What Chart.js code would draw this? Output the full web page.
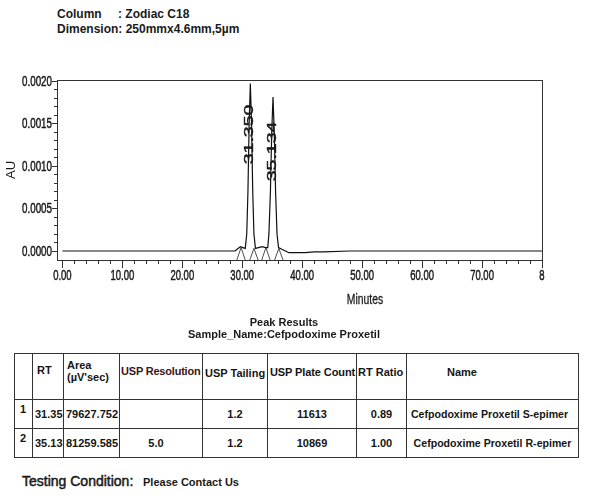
<!DOCTYPE html>
<html>
<head>
<meta charset="utf-8">
<script src="https://cdn.jsdelivr.net/npm/chart.js@4.4.1/dist/chart.umd.min.js"></script>
<style>
  body { margin:0; width:600px; height:501px; position:relative; background:#fff; overflow:hidden; font-family:'Liberation Sans', Arial, sans-serif; color:#1a1a1a; }
  .abs { position:absolute; }
  #tbl { position:absolute; left:14px; top:353px; border-collapse:collapse; table-layout:fixed; width:564px; font:bold 11px/12px 'Liberation Sans', Arial, sans-serif; color:#151515; }
  #tbl td { border:1px solid #333; padding:0; overflow:visible; white-space:nowrap; }
  #tbl tr.h td { height:45px; vertical-align:top; }
  #tbl tr.r td { height:28px; vertical-align:middle; text-align:center; }
</style>
</head>
<body>
<div class="abs" style="left:57px;top:7px;font:bold 12px/15px 'Liberation Sans',Arial,sans-serif;color:#1a1a1a">
  <div><span style="display:inline-block;width:61px">Column</span>: Zodiac C18</div>
  <div>Dimension: 250mmx4.6mm,5µm</div>
</div>
<div class="abs" style="left:0;top:0;width:600px;height:310px"><canvas id="c" width="600" height="310"></canvas></div>
<div class="abs" style="left:315px;top:291px;width:100px;text-align:center;font:14px/16px 'Liberation Sans',Arial,sans-serif;color:#1a1a1a;-webkit-text-stroke:0.3px #1a1a1a;transform:scaleX(0.74);transform-origin:50% 50%">Minutes</div>
<div class="abs" style="left:134px;top:316px;width:300px;text-align:center;font:bold 11px/12px 'Liberation Sans',Arial,sans-serif;color:#1a1a1a">
  <div>Peak Results</div>
  <div>Sample_Name:Cefpodoxime Proxetil</div>
</div>
<table id="tbl">
  <colgroup>
    <col style="width:18px"><col style="width:31px"><col style="width:56px"><col style="width:83px"><col style="width:65px"><col style="width:89px"><col style="width:50px"><col style="width:172px">
  </colgroup>
  <tr class="h">
    <td></td>
    <td><div style="padding:10px 0 0 4px">RT</div></td>
    <td><div style="padding:5px 0 0 3px">Area<br>(µV'sec)</div></td>
    <td><div style="padding:11px 0 0 1px;color:#3d1414;letter-spacing:-0.2px">USP Resolution</div></td>
    <td><div style="padding:13px 0 0 2px">USP Tailing</div></td>
    <td><div style="padding:12px 0 0 2px;letter-spacing:-0.1px">USP Plate Count</div></td>
    <td><div style="padding:12px 0 0 1px">RT Ratio</div></td>
    <td><div style="padding:12px 0 0 40px">Name</div></td>
  </tr>
  <tr class="r">
    <td style="vertical-align:top;text-align:left"><div style="padding:3px 0 0 5px">1</div></td>
    <td style="text-align:left;padding-left:2px">31.35</td>
    <td style="text-align:left;padding-left:2px">79627.752</td>
    <td></td>
    <td>1.2</td>
    <td>11613</td>
    <td>0.89</td>
    <td style="font-size:10.6px;padding-right:6px">Cefpodoxime Proxetil S-epimer</td>
  </tr>
  <tr class="r">
    <td style="vertical-align:top;text-align:left"><div style="padding:3px 0 0 5px">2</div></td>
    <td style="text-align:left;padding-left:2px">35.13</td>
    <td style="text-align:left;padding-left:2px">81259.585</td>
    <td style="padding-right:10px">5.0</td>
    <td>1.2</td>
    <td>10869</td>
    <td>1.00</td>
    <td style="font-size:10.6px">Cefpodoxime Proxetil R-epimer</td>
  </tr>
</table>
<div class="abs" style="left:22px;top:473px;font:14px/16px 'Liberation Sans',Arial,sans-serif;color:#1a1a1a;-webkit-text-stroke:0.5px #1a1a1a">Testing Condition:</div>
<div class="abs" style="left:143px;top:476px;font:bold 11px/13px 'Liberation Sans',Arial,sans-serif;color:#1a1a1a">Please Contact Us</div>

<script>
// ---- data ----
const timeMin = [0, 28.8, 29.3, 29.7, 30.1, 30.5, 30.75, 30.95, 31.15, 31.35, 31.55, 31.75, 31.95, 32.2, 32.7, 33.3, 33.9, 34.25, 34.45, 34.7, 34.92, 35.13, 35.34, 35.56, 35.8, 36.05, 36.6, 37.2, 37.8, 39.0, 40.5, 42.0, 43.5, 48.0, 80.0];
const auValues = [0, 0, 0.00003, 0.00005, 0.00004, 0.00003, 0.0002, 0.0007, 0.0015, 0.00197, 0.0015, 0.0007, 0.0002, 0.00003, 0.00004, 0.00005, 0.00004, 0.00004, 0.0002, 0.0007, 0.0014, 0.00181, 0.0014, 0.0007, 0.0002, 0.00004, 0.00002, 0.0, -0.00002, -0.00002, -0.00002, -0.00001, -0.00001, 0, 0];

// integration marks (peak start / end): apex on the baseline, legs to the axis
const markTimes = [29.1, 29.8, 30.5, null, 31.25, 31.95, 32.65, null, 33.25, 33.95, 34.65, null, 35.4, 36.1, 36.8];
const markAU    = [-0.000106, 0.00004, -0.000106, null, -0.000106, 0.00003, -0.000106, null, -0.000106, 0.00004, -0.000106, null, -0.000106, 0.00003, -0.000106];

const peakLabelText = ['31.350', '35.134'];
const peakLabelTime = [31.35, 35.134];
const peakLabelAU = [0.00137, 0.00117];

const xTickValues = [0, 10, 20, 30, 40, 50, 60, 70, 80];
const xTickLabels = ['0.00', '10.00', '20.00', '30.00', '40.00', '50.00', '60.00', '70.00', '8'];
const yTickValues = [0, 0.0005, 0.0010, 0.0015, 0.0020];
const yTickLabels = ['0.0000', '0.0005', '0.0010', '0.0015', '0.0020'];

const FONT = "'Liberation Sans', Arial, sans-serif";
const SQUEEZE = 0.68;   // condensed instrument-report typeface

function heavyText(ctx, txt) {
  ctx.fillText(txt, 0, 0);
  ctx.strokeText(txt, 0, 0);
}

const frameAndTicks = {
  id: 'frameAndTicks',
  afterDraw(chart) {
    const { ctx, chartArea: a, scales: { x, y } } = chart;
    ctx.save();
    ctx.strokeStyle = '#333';
    ctx.lineWidth = 1;
    ctx.strokeRect(Math.round(a.left) + 0.5, Math.round(a.top) + 0.5, Math.round(a.right - a.left), Math.round(a.bottom - a.top));
    ctx.beginPath();
    for (let t = 0; t <= 80; t += 2) {
      const px = Math.round(x.getPixelForValue(t)) + 0.5;
      const len = (t % 10 === 0) ? 8 : 4;
      ctx.moveTo(px, a.bottom); ctx.lineTo(px, a.bottom + len);
    }
    for (let k = 0; k <= 20; k++) {
      const py = Math.round(y.getPixelForValue(k * 0.0001)) + 0.5;
      const len = (k % 5 === 0) ? 5 : 3;
      ctx.moveTo(a.left, py); ctx.lineTo(a.left - len, py);
    }
    ctx.stroke();

    // tick labels (condensed), placed by the chart's scales
    ctx.fillStyle = '#1a1a1a';
    ctx.strokeStyle = '#1a1a1a';
    ctx.lineWidth = 0.5;
    ctx.font = '14px ' + FONT;
    ctx.textBaseline = 'middle';
    ctx.textAlign = 'center';
    xTickValues.forEach((v, i) => {
      ctx.save();
      ctx.translate(x.getPixelForValue(v), a.bottom + 16);
      ctx.scale(SQUEEZE, 1);
      heavyText(ctx, xTickLabels[i]);
      ctx.restore();
    });
    ctx.textAlign = 'right';
    yTickValues.forEach((v, i) => {
      ctx.save();
      ctx.translate(a.left - 5, y.getPixelForValue(v) + 1);
      ctx.scale(SQUEEZE + 0.02, 1);
      heavyText(ctx, yTickLabels[i]);
      ctx.restore();
    });

    // peak labels (rotated, stretched along the text)
    ctx.font = '13px ' + FONT;
    ctx.lineWidth = 0.4;
    ctx.textAlign = 'center';
    ctx.textBaseline = 'middle';
    peakLabelText.forEach((txt, i) => {
      ctx.save();
      ctx.translate(x.getPixelForValue(peakLabelTime[i]) - 1, y.getPixelForValue(peakLabelAU[i]));
      ctx.rotate(-Math.PI / 2);
      ctx.scale(1.5, 1);
      heavyText(ctx, txt);
      ctx.restore();
    });
    ctx.restore();
  }
};

new Chart(document.getElementById('c'), {
  type: 'scatter',
  data: {
    datasets: [
      {
        data: timeMin.map((t, i) => ({ x: t, y: auValues[i] })),
        showLine: true, borderColor: '#111', borderWidth: 1.2, pointRadius: 0, tension: 0
      },
      {
        data: markTimes.map((t, i) => ({ x: t, y: markAU[i] })),
        showLine: true, spanGaps: false, borderColor: '#222', borderWidth: 0.8, pointRadius: 0, tension: 0
      }
    ]
  },
  options: {
    responsive: false,
    animation: false,
    layout: { padding: { top: 80, right: 58, bottom: 0, left: 0 } },
    plugins: { legend: { display: false }, tooltip: { enabled: false } },
    scales: {
      x: {
        type: 'linear', min: -0.9, max: 80,
        afterBuildTicks: s => { s.ticks = xTickValues.map(v => ({ value: v })); },
        afterFit: s => { s.height = 50; },
        ticks: { display: false },
        grid: { display: false, drawTicks: false },
        border: { display: false }
      },
      y: {
        type: 'linear', min: -0.000106, max: 0.00201,
        afterBuildTicks: s => { s.ticks = yTickValues.map(v => ({ value: v })); },
        afterFit: s => { s.width = 57; },
        ticks: { display: false },
        grid: { display: false, drawTicks: false },
        border: { display: false },
        title: { display: true, text: 'AU', font: { family: FONT, size: 13 }, color: '#1a1a1a', padding: 4 }
      }
    }
  },
  plugins: [frameAndTicks]
});
</script>
</body>
</html>
